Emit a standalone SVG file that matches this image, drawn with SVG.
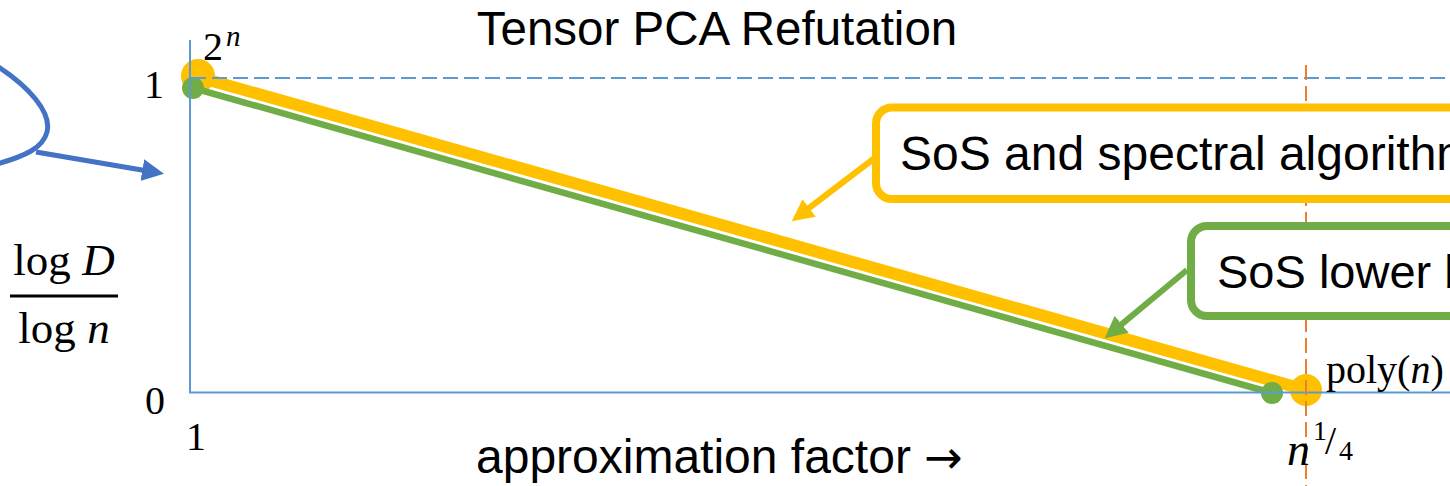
<svg xmlns="http://www.w3.org/2000/svg" width="1450" height="486" viewBox="0 0 1450 486">
<style>
.sans{font-family:"Liberation Sans",Arial,sans-serif;fill:#000}
.serif{font-family:"Liberation Serif","Times New Roman",serif;fill:#000}
.it{font-style:italic}
.axis{stroke:#5B9BD5;stroke-width:2;fill:none}
.dash{stroke-dasharray:15 6}
.orange{stroke:#ED7D31;stroke-width:2;fill:none}
.ybox{fill:#fff;stroke:#FFC000;stroke-width:8}
.gbox{fill:#fff;stroke:#70AD47;stroke-width:8}
</style>
<defs>
<marker id="hb" viewBox="0 -11 22 22" markerWidth="22" markerHeight="22" refX="1" refY="0" markerUnits="userSpaceOnUse" orient="auto"><path d="M0,-11 L22,0 L0,11 z" fill="#4472C4"/></marker>
<marker id="hy" viewBox="0 -11 22 22" markerWidth="22" markerHeight="22" refX="1" refY="0" markerUnits="userSpaceOnUse" orient="auto"><path d="M0,-11 L22,0 L0,11 z" fill="#FFC000"/></marker>
<marker id="hg" viewBox="0 -11 22 22" markerWidth="22" markerHeight="22" refX="1" refY="0" markerUnits="userSpaceOnUse" orient="auto"><path d="M0,-11 L22,0 L0,11 z" fill="#70AD47"/></marker>
</defs>

<g id="title"><text class="sans" x="717" y="45" font-size="47.5" text-anchor="middle">Tensor PCA Refutation</text></g>

<g id="curves">
<line x1="198" y1="77" x2="1306" y2="390" stroke="#FFC000" stroke-width="12"/>
<circle cx="198" cy="76" r="17" fill="#FFC000"/>
<circle cx="1306" cy="390" r="16" fill="#FFC000"/>
<line x1="193" y1="88" x2="1272" y2="393" stroke="#70AD47" stroke-width="6.5"/>
<circle cx="193" cy="88" r="11" fill="#70AD47"/>
<circle cx="1272" cy="393" r="11" fill="#70AD47"/>
</g>

<g id="axes">
<line class="axis" x1="190" y1="40" x2="190" y2="393"/>
<line class="axis" x1="189" y1="392.5" x2="1450" y2="392.5"/>
<line class="axis dash" x1="191" y1="78" x2="1450" y2="78"/>
<line class="orange dash" x1="1306" y1="65" x2="1306" y2="486"/>
</g>

<g id="ylabel">
<text class="serif" x="64" y="275" font-size="45" text-anchor="middle">log <tspan class="it">D</tspan></text>
<line x1="10" y1="296" x2="118" y2="296" stroke="#000" stroke-width="3"/>
<text class="serif" x="64" y="343" font-size="45" text-anchor="middle">log <tspan class="it">n</tspan></text>
</g>

<g id="ticks">
<text class="serif" x="154" y="98" font-size="40" text-anchor="middle">1</text>
<text class="serif" x="155" y="414" font-size="40" text-anchor="middle">0</text>
<text class="serif" x="196" y="450" font-size="40" text-anchor="middle">1</text>
<text class="serif" x="203" y="60" font-size="40">2</text>
<text class="serif it" x="226" y="46" font-size="29">n</text>
<text class="serif" x="1326" y="383" font-size="40">poly(<tspan class="it">n</tspan>)</text>
<text class="serif it" x="1287" y="465" font-size="46">n</text>
<text class="serif" x="1313" y="440" font-size="28">1</text>
<text class="serif" x="1325" y="454" font-size="40">/</text>
<text class="serif" x="1339" y="460" font-size="28">4</text>
</g>

<g id="xlabel"><text class="sans" x="476" y="473" font-size="48">approximation factor <tspan font-family="DejaVu Sans, sans-serif" font-size="46">→</tspan></text></g>

<g id="loop">
<path d="M-3,66 C28,86 52,112 47,132 C43,148 25,156 -3,164" fill="none" stroke="#4472C4" stroke-width="5"/>
</g>

<g id="box-sos-spectral">
<rect class="ybox" x="876" y="107.5" width="620" height="91.5" rx="16"/>
<text class="sans" x="900" y="170" font-size="48">SoS and spectral algorithms</text>
</g>

<g id="box-sos-lower">
<rect class="gbox" x="1191" y="226" width="320" height="90" rx="16"/>
<text class="sans" x="1217" y="288" font-size="47">SoS lower bounds</text>
</g>

<g id="connectors">
<line x1="36" y1="152" x2="143.3" y2="170.3" stroke="#4472C4" stroke-width="5" marker-end="url(#hb)"/>
<line x1="876" y1="157" x2="808.4" y2="208.5" stroke="#FFC000" stroke-width="6" marker-end="url(#hy)"/>
<line x1="1187" y1="270" x2="1120.9" y2="324.9" stroke="#70AD47" stroke-width="6" marker-end="url(#hg)"/>
</g>
</svg>
